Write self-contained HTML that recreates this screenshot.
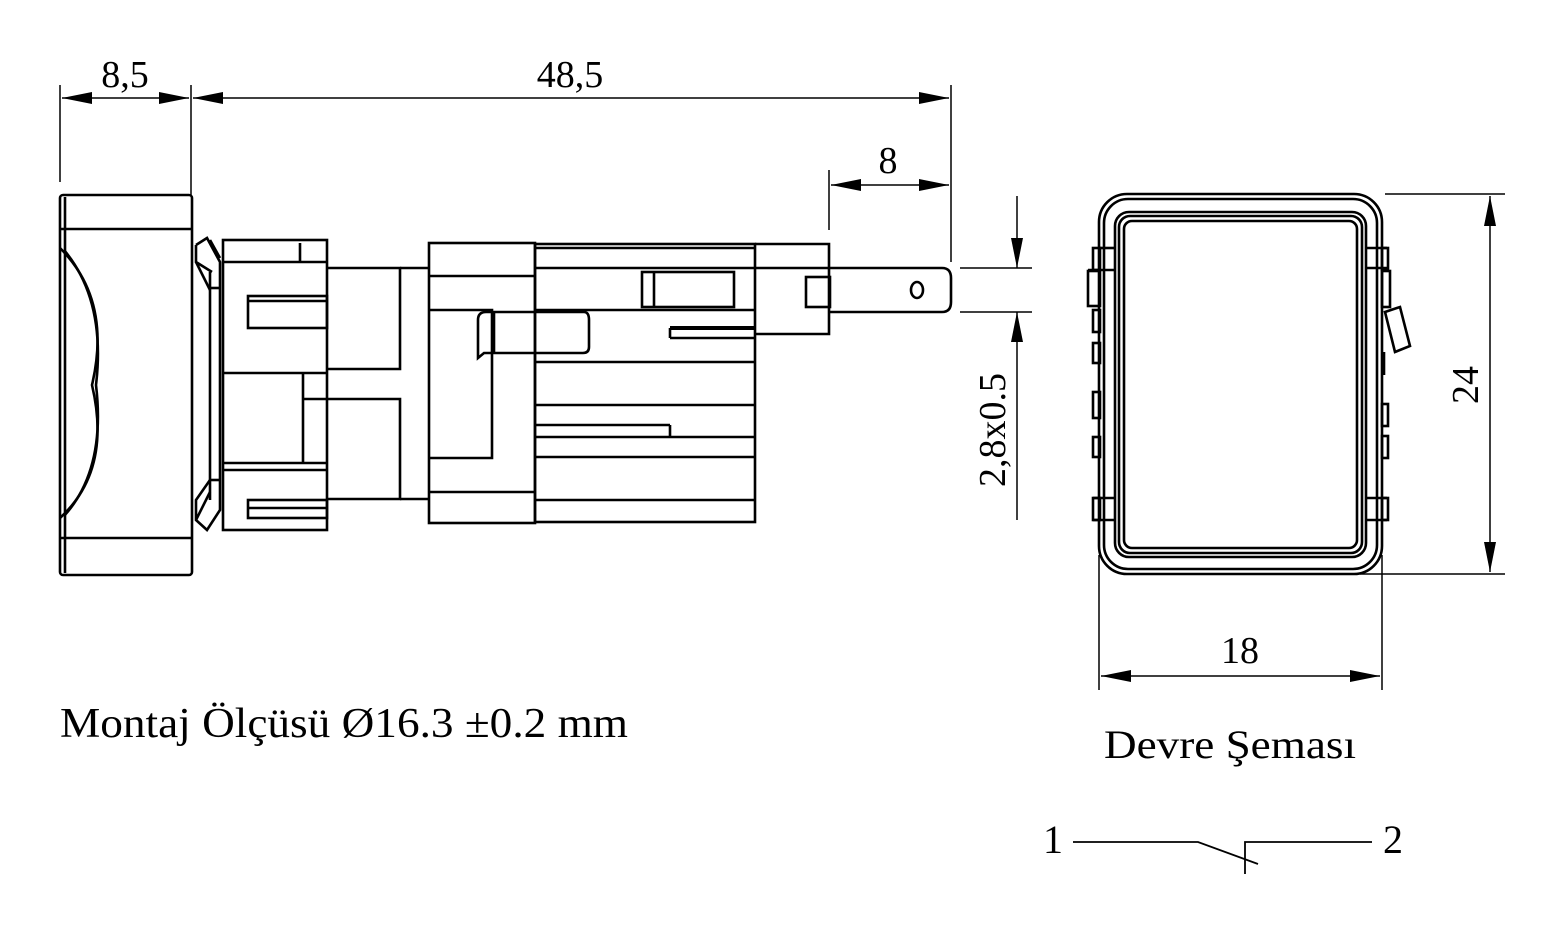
<!DOCTYPE html>
<html><head><meta charset="utf-8"><style>
html,body{margin:0;padding:0;background:#fff;}
svg{display:block;}
text{font-family:"Liberation Serif",serif;fill:#000;}
</style></head><body>
<svg width="1565" height="933" viewBox="0 0 1565 933" xmlns="http://www.w3.org/2000/svg">
<defs>
<marker id="a" viewBox="0 0 30 12" refX="30" refY="6" markerWidth="30" markerHeight="12" markerUnits="userSpaceOnUse" orient="auto-start-reverse"><path d="M0,0 L30,6 L0,12 Z" fill="#000"/></marker>
</defs>
<g stroke="#000" fill="none" stroke-width="2.6">
<!-- top dims -->
<line x1="60" y1="85" x2="60" y2="182" stroke-width="1.5"/>
<line x1="191" y1="85" x2="191" y2="195" stroke-width="1.5"/>
<line x1="951" y1="85" x2="951" y2="262" stroke-width="1.5"/>
<line x1="62" y1="98" x2="189" y2="98" marker-start="url(#a)" marker-end="url(#a)" stroke-width="1.5"/>
<line x1="193" y1="98" x2="949" y2="98" marker-start="url(#a)" marker-end="url(#a)" stroke-width="1.5"/>
<line x1="829" y1="170" x2="829" y2="230" stroke-width="1.5"/>
<line x1="831" y1="185" x2="949" y2="185" marker-start="url(#a)" marker-end="url(#a)" stroke-width="1.5"/>
<!-- 2.8 dim -->
<line x1="960" y1="268" x2="1032" y2="268" stroke-width="1.5"/>
<line x1="960" y1="312" x2="1032" y2="312" stroke-width="1.5"/>
<line x1="1017" y1="196" x2="1017" y2="268" marker-end="url(#a)" stroke-width="1.5"/>
<line x1="1017" y1="520" x2="1017" y2="312" marker-end="url(#a)" stroke-width="1.5"/>
<!-- bezel -->
<rect x="60" y="195" width="132" height="380" rx="3"/>
<line x1="65" y1="197" x2="65" y2="573"/>
<line x1="60" y1="229" x2="192" y2="229"/>
<line x1="60" y1="538" x2="192" y2="538"/>
<path d="M60,248 Q112,300 92,385 Q112,470 60,518"/>
<path d="M64,250 Q106,300 96,385 Q106,470 64,516"/>
<!-- collar -->
<path d="M196,245 L207,238 L220,262 L220,510 L207,530 L196,520 L196,500 L210,480 M196,245 L196,262 L212,272 M210,240 L220,258 M196,262 L210,290 M196,520 L210,492"/>
<line x1="210" y1="272" x2="210" y2="500"/>
<line x1="210" y1="288" x2="220" y2="288"/>
<line x1="210" y1="480" x2="220" y2="480"/>
<!-- nut -->
<rect x="223" y="240" width="104" height="290"/>
<line x1="223" y1="262" x2="327" y2="262"/>
<line x1="300" y1="243" x2="300" y2="262"/>
<line x1="223" y1="373" x2="327" y2="373"/>
<line x1="223" y1="463" x2="327" y2="463"/>
<line x1="303" y1="373" x2="303" y2="463"/>
<line x1="223" y1="470" x2="327" y2="470"/>
<rect x="248" y="296" width="79" height="32"/>
<line x1="248" y1="301" x2="327" y2="301"/>
<rect x="248" y="500" width="79" height="18"/>
<line x1="248" y1="508" x2="327" y2="508"/>
<!-- connector -->
<polyline points="327,268 400,268 400,369 327,369"/>
<polyline points="303,399 400,399 400,499 327,499"/>
<line x1="400" y1="268" x2="429" y2="268"/>
<line x1="400" y1="499" x2="429" y2="499"/>
<!-- body -->
<rect x="429" y="243" width="106" height="280"/>
<line x1="429" y1="276" x2="535" y2="276"/>
<polyline points="429,310 492,310 492,458 429,458"/>
<line x1="429" y1="492" x2="535" y2="492"/>
<rect x="535" y="244" width="220" height="278"/>
<line x1="535" y1="248" x2="755" y2="248"/>
<line x1="535" y1="268" x2="830" y2="268"/>
<line x1="535" y1="310" x2="755" y2="310"/>
<line x1="535" y1="362" x2="755" y2="362"/>
<line x1="535" y1="405" x2="755" y2="405"/>
<line x1="535" y1="425" x2="670" y2="425"/>
<line x1="535" y1="437" x2="755" y2="437"/>
<line x1="535" y1="457" x2="755" y2="457"/>
<line x1="535" y1="500" x2="755" y2="500"/>
<line x1="670" y1="328" x2="755" y2="328" stroke-width="4"/>
<line x1="670" y1="338" x2="755" y2="338"/>
<line x1="670" y1="328" x2="670" y2="338"/>
<line x1="670" y1="425" x2="670" y2="437"/>
<rect x="642" y="272" width="92" height="35"/>
<line x1="654" y1="272" x2="654" y2="307"/>
<!-- clip -->
<path d="M478,320 Q478,312 486,312 L584,312 Q589,312 589,320 L589,347 Q589,353 583,353 L484,353 L478,358 Z"/>
<line x1="494" y1="312" x2="494" y2="353"/>
<!-- right extension -->
<polyline points="755,244 829,244 829,334 755,334"/>
<rect x="806" y="277" width="24" height="30"/>
<!-- terminal -->
<path d="M830,268 L942,268 Q951,268 951,278 L951,302 Q951,312 942,312 L830,312"/>
<ellipse cx="917" cy="290" rx="6" ry="8"/>
<!-- front view -->
<rect x="1099" y="194" width="283" height="380" rx="28"/>
<rect x="1104" y="199" width="273" height="370" rx="24"/>
<rect x="1115" y="212" width="251" height="345" rx="14"/>
<rect x="1119" y="216" width="243" height="337" rx="11"/>
<rect x="1124" y="221" width="233" height="327" rx="8"/>
<line x1="1088" y1="270" x2="1115" y2="270"/>
<rect x="1093" y="248" width="7" height="22"/>
<rect x="1088" y="271" width="12" height="35"/>
<rect x="1093" y="310" width="7" height="22"/>
<rect x="1093" y="343" width="7" height="20"/>
<rect x="1093" y="392" width="7" height="26"/>
<rect x="1093" y="437" width="7" height="20"/>
<rect x="1093" y="498" width="7" height="22"/>
<line x1="1093" y1="498" x2="1115" y2="498"/>
<line x1="1093" y1="520" x2="1115" y2="520"/>
<line x1="1100" y1="248" x2="1115" y2="248"/>
<line x1="1366" y1="248" x2="1387" y2="248"/>
<line x1="1366" y1="268" x2="1387" y2="268"/>
<rect x="1382" y="248" width="6" height="22"/>
<rect x="1382" y="271" width="8" height="36"/>
<path d="M1385,312 L1400,307 L1410,346 L1395,352 Z"/>
<line x1="1384" y1="352" x2="1384" y2="375"/>
<rect x="1382" y="404" width="6" height="22"/>
<rect x="1382" y="436" width="6" height="22"/>
<rect x="1382" y="498" width="6" height="22"/>
<line x1="1366" y1="498" x2="1387" y2="498"/>
<line x1="1366" y1="520" x2="1387" y2="520"/>
<!-- 24 dim -->
<line x1="1385" y1="194" x2="1505" y2="194" stroke-width="1.5"/>
<line x1="1360" y1="574" x2="1505" y2="574" stroke-width="1.5"/>
<line x1="1490" y1="196" x2="1490" y2="572" marker-start="url(#a)" marker-end="url(#a)" stroke-width="1.5"/>
<!-- 18 dim -->
<line x1="1099" y1="555" x2="1099" y2="690" stroke-width="1.5"/>
<line x1="1382" y1="555" x2="1382" y2="690" stroke-width="1.5"/>
<line x1="1101" y1="676" x2="1380" y2="676" marker-start="url(#a)" marker-end="url(#a)" stroke-width="1.5"/>
<!-- schematic -->
<polyline points="1073,842 1198,842 1258,864" stroke-width="1.8"/>
<polyline points="1245,874 1245,842 1372,842" stroke-width="1.8"/>
</g>
<text x="125" y="87" font-size="38" text-anchor="middle">8,5</text>
<text x="570" y="87" font-size="38" text-anchor="middle">48,5</text>
<text x="888" y="173" font-size="38" text-anchor="middle">8</text>
<text transform="translate(1005,430) rotate(-90)" font-size="38" text-anchor="middle">2,8x0.5</text>
<text transform="translate(1478,385) rotate(-90)" font-size="38" text-anchor="middle">24</text>
<text x="1240" y="663" font-size="38" text-anchor="middle">18</text>
<text x="60" y="737" font-size="42" textLength="568" lengthAdjust="spacingAndGlyphs">Montaj Ölçüsü Ø16.3 ±0.2 mm</text>
<text x="1104" y="758" font-size="40" textLength="252" lengthAdjust="spacingAndGlyphs">Devre Şeması</text>
<text x="1043" y="853" font-size="40">1</text>
<text x="1383" y="853" font-size="40">2</text>
</svg>
</body></html>
